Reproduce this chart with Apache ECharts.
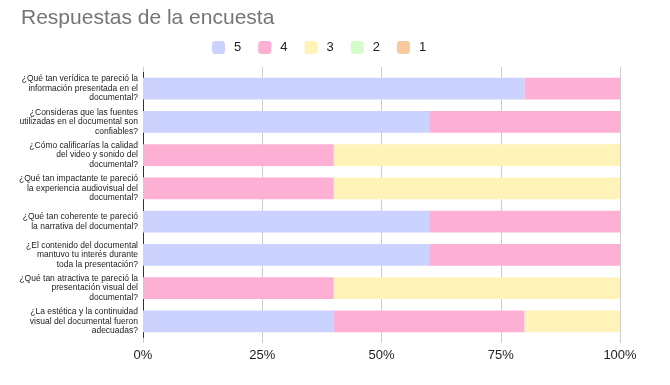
<!DOCTYPE html>
<html><head><meta charset="utf-8">
<script src="https://cdn.jsdelivr.net/npm/echarts@6/dist/echarts.min.js"></script>
<style>html,body{margin:0;padding:0;background:#fff}#c{width:670px;height:385px}</style>
</head><body><div id="c"></div>
<script>
var categories = [
  "¿Qué tan verídica te pareció la\ninformación presentada en el\ndocumental?",
  "¿Consideras que las fuentes\nutilizadas en el documental son\nconfiables?",
  "¿Cómo calificarías la calidad\ndel video y sonido del\ndocumental?",
  "¿Qué tan impactante te pareció\nla experiencia audiovisual del\ndocumental?",
  "¿Qué tan coherente te pareció\nla narrativa del documental?",
  "¿El contenido del documental\nmantuvo tu interés durante\ntoda la presentación?",
  "¿Qué tan atractiva te pareció la\npresentación visual del\ndocumental?",
  "¿La estética y la continuidad\nvisual del documental fueron\nadecuadas?"
];
var seriesNames = ["5", "4", "3", "2", "1"];
var s5 = [80, 60, 0, 0, 60, 60, 0, 40];
var s4 = [20, 40, 40, 40, 40, 40, 40, 40];
var s3 = [0, 0, 60, 60, 0, 0, 60, 20];
var s2 = [0, 0, 0, 0, 0, 0, 0, 0];
var s1 = [0, 0, 0, 0, 0, 0, 0, 0];
var xTicks = ["0%", "25%", "50%", "75%", "100%"];

var colors = ["#cbd2fd", "#feafd4", "#fff3ba", "#d5fdcc", "#f9c99e"];
var values = [s5, s4, s3, s2, s1];
var FONT = '"Liberation Sans", Arial, sans-serif';
var chart = echarts.init(document.getElementById('c'), null, {renderer: 'canvas'});
chart.setOption({
  animation: false,
  textStyle: {fontFamily: FONT},
  title: {text: 'Respuestas de la encuesta', left: 16, top: 3,
    textStyle: {fontSize: 21, fontWeight: 'normal', color: '#757575', fontFamily: FONT}},
  legend: {top: 36, left: 207, itemWidth: 13, itemHeight: 13, itemGap: 17, icon: 'roundRect',
    textStyle: {fontSize: 13, color: '#222', fontFamily: FONT, padding: [0, 0, 0, 4]},
    data: seriesNames},
  grid: {left: 143, right: 50, top: 72, bottom: 47},
  xAxis: [{type: 'value', min: 0, max: 100, interval: 25, position: 'bottom',
    axisLine: {show: false},
    axisTick: {show: true, length: 5, lineStyle: {color: '#cccccc'}},
    splitLine: {show: true, lineStyle: {color: '#cccccc', width: 1}},
    axisLabel: {fontSize: 13, color: '#222', margin: 11, fontFamily: FONT,
      formatter: function (v) { return xTicks[Math.round(v / 25)]; }}},
    {type: 'value', min: 0, max: 100, interval: 25, position: 'top',
    axisLine: {show: false},
    axisTick: {show: true, length: 5, lineStyle: {color: '#cccccc'}},
    splitLine: {show: false},
    axisLabel: {show: false}}],
  yAxis: {type: 'category', data: categories, inverse: true,
    axisLine: {show: true, lineStyle: {color: '#333', width: 1}},
    axisTick: {show: false},
    axisLabel: {fontSize: 8.5, lineHeight: 9.5, color: '#222', margin: 5, align: 'right', fontFamily: FONT}},
  series: seriesNames.map(function (n, i) {
    return {name: n, type: 'bar', stack: 'total', barCategoryGap: '35%',
      xAxisIndex: 0, itemStyle: {color: colors[i]}, data: values[i]};
  })
});
</script></body></html>
